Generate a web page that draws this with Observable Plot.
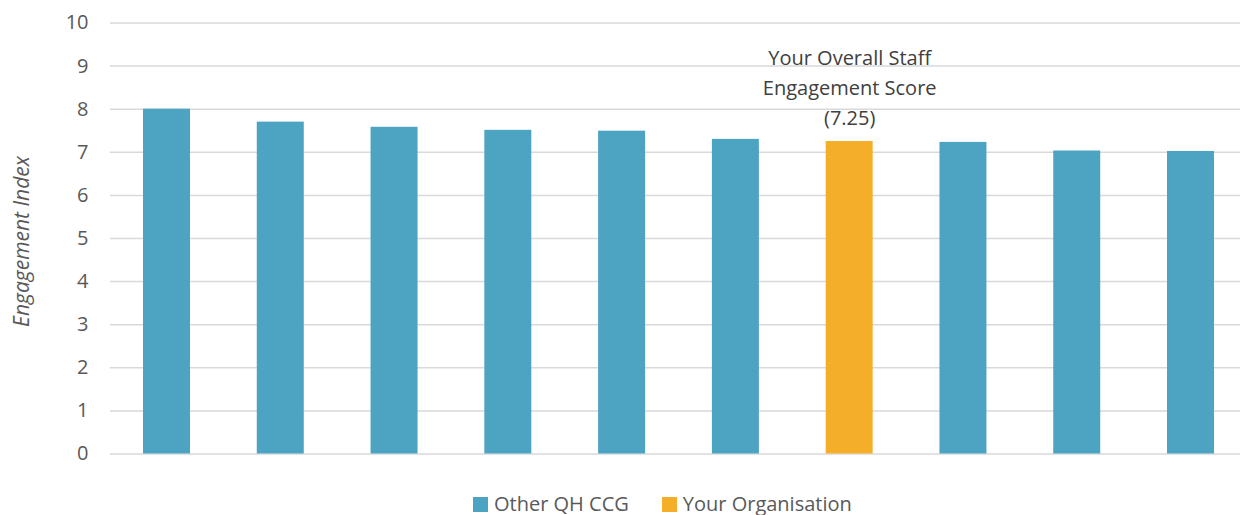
<!DOCTYPE html>
<html>
<head>
<meta charset="utf-8">
<script src="https://cdn.jsdelivr.net/npm/d3@7"></script>
<script src="https://cdn.jsdelivr.net/npm/@observablehq/plot@0.6"></script>
<style>
  html, body { margin: 0; padding: 0; background: #fff; }
  body { width: 1240px; height: 515px; overflow: hidden; font-family: "Open Sans", sans-serif; }
  #legend { display: flex; align-items: center; height: 22px; line-height: 22px; margin-left: 473px; margin-top: 13px; font-size: 20px; color: #595959; }
  .item { display: flex; align-items: center; margin-right: 33px; }
  .sw { width: 15px; height: 15px; margin-right: 6px; }
</style>
</head>
<body>
<div id="chart"></div>
<div id="legend"></div>
<script>
const categories = ["1", "2", "3", "4", "5", "6", "7", "8", "9", "10"];
const values = [8.0, 7.7, 7.58, 7.51, 7.49, 7.3, 7.25, 7.23, 7.03, 7.02];
const groups = ["Other QH CCG", "Other QH CCG", "Other QH CCG", "Other QH CCG", "Other QH CCG", "Other QH CCG", "Your Organisation", "Other QH CCG", "Other QH CCG", "Other QH CCG"];
const seriesNames = ["Other QH CCG", "Your Organisation"];
const seriesColors = ["#4DA3C2", "#F5AE2A"];
const yTicks = [0, 1, 2, 3, 4, 5, 6, 7, 8, 9, 10];
const yLabel = "Engagement Index";
const annotation = "Your Overall Staff\nEngagement Score\n(7.25)";

const data = categories.map((c, i) => ({cat: c, value: values[i], group: groups[i]}));
const annotated = data.filter(d => d.group === "Your Organisation");

const chart = Plot.plot({
  width: 1240,
  height: 480,
  marginTop: 22.5,
  marginBottom: 26.5,
  marginLeft: 110,
  marginRight: 0,
  style: {fontFamily: "'Open Sans', sans-serif", fontSize: "20px", color: "#595959", background: "#fff"},
  x: {domain: categories, range: [110, 1247], round: false, paddingInner: 0.587, paddingOuter: 0.29, axis: null},
  y: {domain: [0, 10], ticks: yTicks, tickSize: 0, tickPadding: 22, label: null},
  color: {domain: seriesNames, range: seriesColors},
  marks: [
    Plot.ruleY(yTicks, {stroke: "#d9d9d9", strokeWidth: 1.5}),
    Plot.barY(data, {x: "cat", y: "value", fill: "group"}),
    Plot.text(annotated, {x: "cat", y: "value", text: () => annotation, dy: -17, lineAnchor: "bottom", lineHeight: 1.5, fontSize: 20, fill: "#404040"}),
    Plot.text([yLabel], {frameAnchor: "left", text: d => d, rotate: -90, textAnchor: "middle", dx: -88, dy: 3, fontSize: 21, fontStyle: "italic", fill: "#595959"})
  ]
});
document.getElementById("chart").appendChild(chart);

const legend = document.getElementById("legend");
seriesNames.forEach((name, i) => {
  const item = document.createElement("div");
  item.className = "item";
  const sw = document.createElement("div");
  sw.className = "sw";
  sw.style.background = seriesColors[i];
  const label = document.createElement("span");
  label.textContent = name;
  item.appendChild(sw);
  item.appendChild(label);
  legend.appendChild(item);
});
</script>
</body>
</html>
